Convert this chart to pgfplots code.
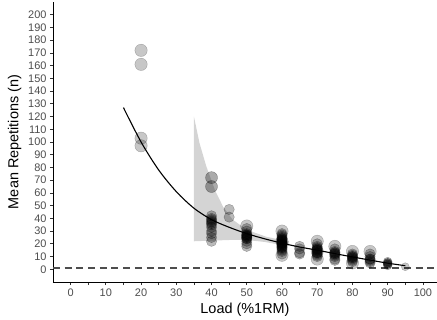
\documentclass[border=0pt]{standalone}
\usepackage{pgfplots}
\pgfplotsset{compat=1.18}
\usepackage{fontspec}
\setmainfont{Liberation Sans}
\definecolor{tickgray}{HTML}{4D4D4D}
\definecolor{axgray}{HTML}{333333}
\definecolor{bandgray}{HTML}{D4D4D4}
\definecolor{dashgray}{HTML}{4D4D4D}
\begin{document}
\begin{tikzpicture}
\begin{axis}[
 scale only axis, width=384bp, height=280bp,
 xmin=-5, xmax=104, ymin=-10, ymax=210,
 axis lines=left, axis line style={-, black, line width=0.9bp},
 tick align=outside, major tick length=3bp, tick style={axgray, line width=0.8bp},
 xtick={0,5,...,100}, xticklabels={0,,10,,20,,30,,40,,50,,60,,70,,80,,90,,100},
 ytick={0,10,...,200},
 ticklabel style={font=\fontsize{11}{12}\selectfont, text=tickgray},
 /pgf/number format/assume math mode=true,
 xlabel={Load (\%1RM)}, ylabel={Mean Repetitions (n)},
 label style={font=\fontsize{14.5}{16}\selectfont},
]
% confidence band
\addplot[fill=bandgray, draw=none] coordinates {
 (35,120) (36.6,99) (38.5,81) (41,62) (43.3,49) (46,39) (50,31) (55.6,25.5) (60,23) (62,22)
 (62,18.5) (60,19) (55,21.5) (50,23) (45,23) (40,22.5) (35,22)} -- cycle;
% reference line
\addplot[dashgray, line width=1.2bp, dash pattern=on 7bp off 4.7bp] coordinates {(-5,1) (104,1)};
% big points (light)
\addplot[only marks, mark=*, mark size=6.2bp, mark options={draw=black, fill=black, fill opacity=0.22, draw opacity=0.25, line width=0.4bp}] coordinates {
 (20,172) (20,161) (20,103) (20,97) (50,34) (60,30) (60,11)
 (70,22) (70,8) (75,18) (80,14) (85,14) (80,5) (60,22) (70,14)};
% upper points at 40 (medium grey)
\addplot[only marks, mark=*, mark size=6.0bp, mark options={draw=black, fill=black, fill opacity=0.33, draw opacity=0.36, line width=0.4bp}] coordinates {
 (40,72) (40,65)};
% medium points
\addplot[only marks, mark=*, mark size=5.2bp, mark options={draw=black, fill=black, fill opacity=0.27, draw opacity=0.3, line width=0.4bp}] coordinates {
 (40,42) (40,40) (40,39) (40,38) (40,37) (40,36) (40,35) (40,33) (40,30) (40,28) (40,25) (40,22)
 (45,47) (45,41)
 (50,32) (50,30) (50,28) (50,27) (50,27) (50,26) (50,26) (50,25) (50,25) (50,24) (50,24) (50,22) (50,20) (50,18)
 (60,28) (60,27) (60,26) (60,25) (60,24) (60,24) (60,23) (60,23) (60,22) (60,22) (60,21) (60,21) (60,20) (60,20) (60,20) (60,19) (60,19) (60,18) (60,18) (60,17) (60,17) (60,16) (60,15) (60,14) (60,12)
 (65,18) (65,16) (65,13) (65,12)
 (70,20) (70,18) (70,17) (70,16) (70,16) (70,15) (70,15) (70,14) (70,13) (70,13) (70,12) (70,11) (70,10)
 (75,16) (75,14) (75,13) (75,13) (75,12) (75,12) (75,11) (75,10) (75,8) (75,7)
 (80,12) (80,11) (80,10) (80,10) (80,9) (80,9) (80,8) (80,7) (80,6)
 (85,12) (85,10) (85,8) (85,8) (85,7) (85,6) (85,5)};
% small points
\addplot[only marks, mark=*, mark size=4.4bp, mark options={draw=black, fill=black, fill opacity=0.27, draw opacity=0.3, line width=0.4bp}] coordinates {
 (90,6) (90,5) (90,5) (90,4) (90,4) (90,3)};
\addplot[only marks, mark=*, mark size=4.0bp, mark options={draw=black, fill=black, fill opacity=0.22, draw opacity=0.25, line width=0.4bp}] coordinates {(95,2)};
% fitted curve
\addplot[black, line width=1.1bp, smooth] coordinates {
 (15,127) (20,100) (25,78) (30,61) (35,48) (40,39) (45,33) (50,28) (55,24) (60,20.5)
 (65,17.5) (70,15) (75,12.3) (80,9.7) (85,7.2) (90,4.8) (95,2.8)};
\end{axis}
\pgfresetboundingbox
\path (current axis.south west) ++(-53bp,-38bp) rectangle ++(437bp,320bp);
\end{tikzpicture}
\end{document}
